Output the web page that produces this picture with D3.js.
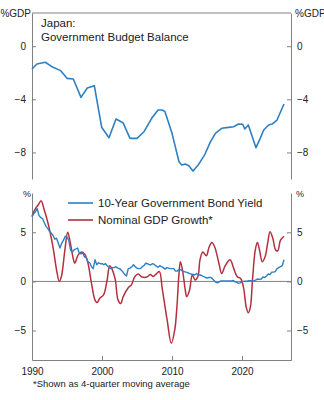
<!DOCTYPE html>
<html>
<head>
<meta charset="utf-8">
<script src="https://cdn.jsdelivr.net/npm/d3@7"></script>
<style>
  body { margin: 0; background: #fff; }
  svg text { font-family: "Liberation Sans", Arial, sans-serif; fill: #222; }
</style>
</head>
<body>
<div id="chart"></div>
<script>
// Japan: government budget balance, %GDP
var budgetYears = [1990.0, 1990.7, 1991.9, 1993.0, 1994.1, 1995.0, 1995.9, 1997.0, 1997.9, 1998.9,
  1999.95, 2001.0, 2002.0, 2003.0, 2004.0, 2005.0, 2006.0, 2007.1, 2008.0, 2008.6,
  2009.0, 2010.0, 2011.0, 2011.4, 2011.9, 2012.4, 2013.0, 2013.8, 2014.7, 2015.5,
  2016.2, 2017.1, 2018.1, 2018.8, 2019.5, 2020.1, 2020.4, 2020.9, 2021.3, 2022.0,
  2022.6, 2023.1, 2023.8, 2024.3, 2025.0, 2026.0];
var budgetBalance = [-1.72, -1.34, -1.21, -1.59, -1.84, -2.42, -2.47, -3.85, -3.15, -2.97,
  -6.1, -6.89, -5.48, -5.76, -6.94, -6.94, -6.44, -5.43, -4.8, -4.8,
  -4.93, -6.56, -8.7, -8.95, -8.87, -9.0, -9.4, -8.9, -8.14, -7.19,
  -6.56, -6.18, -6.11, -6.06, -5.86, -5.88, -6.23, -5.93, -6.56, -7.64,
  -6.94, -6.31, -5.93, -5.86, -5.56, -4.35];

// 10-year JGB yield, quarterly from 1990Q1
var bondStart = 1990;
var bondYield = [
  6.6, 6.9, 7.1, 7.4, 6.7, 6.5, 6.4, 6.0, 5.6, 5.4, 5.1, 4.9,
  4.7, 4.3, 4.4, 3.9, 3.4, 3.9, 4.2, 4.6, 4.5, 4.2, 3.2, 3.0,
  3.2, 3.3, 3.4, 2.9, 2.8, 2.9, 2.5, 2.4, 2.0, 1.9, 1.5, 1.3,
  2.2, 1.7, 1.9, 1.8, 1.8, 1.7, 1.8, 1.6, 1.4, 1.3, 1.4, 1.4,
  1.5, 1.35, 1.3, 1.15, 0.95, 0.7, 0.55, 1.3, 1.35, 1.5, 1.7, 1.5,
  1.35, 1.3, 1.3, 1.5, 1.6, 1.85, 1.8, 1.7, 1.7, 1.8, 1.7, 1.55,
  1.45, 1.6, 1.5, 1.4, 1.25, 1.4, 1.35, 1.3, 1.3, 1.3, 1.05, 1.05,
  1.2, 1.2, 1.05, 1.0, 0.95, 0.9, 0.8, 0.75, 0.7, 0.65, 0.8, 0.65,
  0.65, 0.6, 0.5, 0.4, 0.35, 0.4, 0.4, 0.3, 0.1, -0.1, -0.15, -0.05,
  0.05, 0.05, 0.05, 0.05, 0.05, 0.05, 0.05, 0.1, -0.05, -0.1, -0.2, -0.15,
  0.0, 0.0, 0.02, 0.02, 0.08, 0.08, 0.03, 0.07, 0.15, 0.25, 0.2, 0.25,
  0.45, 0.4, 0.55, 0.75, 0.7, 0.95, 0.95, 1.0, 1.3, 1.4, 1.5, 1.6,
  2.2];

// nominal GDP growth, 4-quarter moving average
var gdpYears = [1990.0, 1990.4, 1990.9, 1991.3, 1991.7, 1992.3, 1993.0, 1993.5, 1993.9, 1994.2,
  1994.7, 1995.1, 1995.4, 1995.9, 1996.1, 1996.6, 1997.1, 1997.6, 1998.0, 1998.5,
  1999.0, 1999.3, 1999.7, 2000.2, 2000.7, 2001.1, 2001.4, 2001.9, 2002.3, 2002.7,
  2003.0, 2003.8, 2004.2, 2004.7, 2005.2, 2005.7, 2006.4, 2006.9, 2007.3, 2007.8,
  2008.2, 2008.6, 2009.3, 2009.9, 2010.4, 2010.7, 2011.0, 2011.2, 2011.5, 2011.9,
  2012.1, 2012.5, 2012.9, 2013.3, 2013.7, 2014.0, 2014.4, 2014.9, 2015.3, 2015.7,
  2016.1, 2016.7, 2017.1, 2017.6, 2018.3, 2018.8, 2019.3, 2019.8, 2020.2, 2020.6,
  2020.9, 2021.2, 2021.5, 2021.9, 2022.2, 2022.5, 2022.9, 2023.3, 2023.7, 2024.0,
  2024.4, 2024.8, 2025.1, 2025.5, 2026.0];
var gdpGrowth = [6.6, 7.3, 7.8, 8.2, 7.4, 5.9, 3.5, 1.2, 0.0, 0.5,
  3.2, 5.0, 4.2, 2.3, 1.85, 2.7, 3.0, 2.7, 1.85, -0.2,
  -1.9, -2.15, -1.7, -1.4, 0.0, 1.6, 1.3, 0.15, -1.9, -2.25,
  -1.6, -0.6, -0.35, 0.5, 0.75, 0.45, 0.45, 0.7, 0.5, 0.8,
  1.0, -0.7, -3.9, -6.3, -4.9, -2.6, 0.8, 2.0, 1.15, -0.9,
  -1.55, -0.9, 0.65, 0.15, 0.5, 2.2, 3.0, 2.6, 3.5, 3.95,
  3.5, 1.85, 0.8, 1.6, 2.2, 1.35, 0.5, 0.3, -0.55, -2.6,
  -3.2, -2.6, 0.15, 3.2, 3.95, 3.2, 2.0, 2.5, 4.05, 5.05,
  4.4, 3.2, 3.1, 4.2, 4.6];

var topTicks = [0, -4, -8];
var bottomTicks = [5, 0, -5];
var yearTicks = [1990, 2000, 2010, 2020];

var blue = "#2f80c3", red = "#b5303e", axisGrey = "#808080";

var svg = d3.select("#chart").append("svg")
    .attr("width", 324)
    .attr("height", 400);

var left = 32, right = 291;

var x = d3.scaleLinear().domain([1990, 2027]).range([left, right]);

// top panel
var yTop = d3.scaleLinear().domain([-10, 2.5]).range([179, 13]);

svg.append("line")
    .attr("x1", left).attr("x2", right).attr("y1", 13).attr("y2", 13)
    .attr("stroke", axisGrey);

function styleAxis(g) {
    g.selectAll("path.domain").attr("stroke", axisGrey);
    g.selectAll(".tick line").attr("stroke", axisGrey);
    g.selectAll(".tick text")
        .attr("fill", "#222")
        .style("font-size", "10px")
        .style("font-family", "'Liberation Sans', Arial, sans-serif");
}

svg.append("g")
    .attr("transform", "translate(" + left + ",0)")
    .call(d3.axisLeft(yTop).tickValues(topTicks).tickSizeInner(-4).tickSizeOuter(0).tickPadding(6))
    .call(styleAxis);

svg.append("g")
    .attr("transform", "translate(" + right + ",0)")
    .call(d3.axisRight(yTop).tickValues(topTicks).tickSizeInner(-4).tickSizeOuter(0).tickPadding(6))
    .call(styleAxis);

svg.append("path")
    .datum(budgetYears.map(function(d, i) { return [d, budgetBalance[i]]; }))
    .attr("fill", "none")
    .attr("stroke", blue)
    .attr("stroke-width", 1.6)
    .attr("stroke-linejoin", "round")
    .attr("d", d3.line()
        .x(function(d) { return x(d[0]); })
        .y(function(d) { return yTop(d[1]); }));

svg.append("text").attr("x", 31).attr("y", 17).attr("text-anchor", "end")
    .style("font-size", "10px").text("%GDP");
svg.append("text").attr("x", 295).attr("y", 17)
    .style("font-size", "10px").text("%GDP");
svg.append("text").attr("x", 41).attr("y", 27)
    .style("font-size", "11.5px").text("Japan:");
svg.append("text").attr("x", 41).attr("y", 41)
    .style("font-size", "11.5px").text("Government Budget Balance");

// bottom panel
var yBot = d3.scaleLinear().domain([-8, 9]).range([360, 193]);

svg.append("line")
    .attr("x1", left).attr("x2", right)
    .attr("y1", yBot(0)).attr("y2", yBot(0))
    .attr("stroke", axisGrey);

svg.append("g")
    .attr("transform", "translate(" + left + ",0)")
    .call(d3.axisLeft(yBot).tickValues(bottomTicks).tickSizeInner(-4).tickSizeOuter(0).tickPadding(6))
    .call(styleAxis);

svg.append("g")
    .attr("transform", "translate(" + right + ",0)")
    .call(d3.axisRight(yBot).tickValues(bottomTicks).tickSizeInner(-4).tickSizeOuter(0).tickPadding(6))
    .call(styleAxis);

svg.append("g")
    .attr("transform", "translate(0,360)")
    .call(d3.axisBottom(x).tickValues(yearTicks).tickFormat(d3.format("d"))
        .tickSizeInner(-4).tickSizeOuter(0).tickPadding(8))
    .call(styleAxis);

svg.append("path")
    .datum(gdpYears.map(function(d, i) { return [d, gdpGrowth[i]]; }))
    .attr("fill", "none")
    .attr("stroke", red)
    .attr("stroke-width", 1.5)
    .attr("d", d3.line()
        .curve(d3.curveCatmullRom)
        .x(function(d) { return x(d[0]); })
        .y(function(d) { return yBot(d[1]); }));

svg.append("path")
    .datum(bondYield)
    .attr("fill", "none")
    .attr("stroke", blue)
    .attr("stroke-width", 1.4)
    .attr("stroke-linejoin", "round")
    .attr("d", d3.line()
        .x(function(d, i) { return x(bondStart + i / 4); })
        .y(function(d) { return yBot(d); }));

svg.append("text").attr("x", 31).attr("y", 197).attr("text-anchor", "end")
    .style("font-size", "9px").text("%");
svg.append("text").attr("x", 296).attr("y", 197)
    .style("font-size", "9px").text("%");

// legend
var legend = [
    { label: "10-Year Government Bond Yield", color: blue, y: 203 },
    { label: "Nominal GDP Growth*", color: red, y: 220 }
];
legend.forEach(function(d) {
    svg.append("line")
        .attr("x1", 68).attr("x2", 93).attr("y1", d.y).attr("y2", d.y)
        .attr("stroke", d.color).attr("stroke-width", 1.6);
    svg.append("text").attr("x", 98).attr("y", d.y + 4)
        .style("font-size", "11.5px").text(d.label);
});

svg.append("text").attr("x", 33).attr("y", 387)
    .style("font-size", "9.5px").text("*Shown as 4-quarter moving average");
</script>
</body>
</html>
